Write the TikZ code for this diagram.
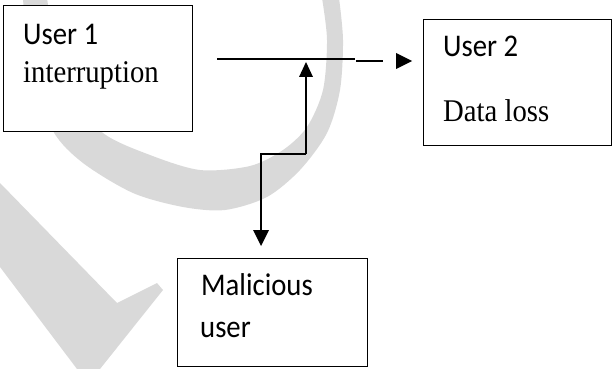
\documentclass[tikz,border=0pt]{standalone}
\usepackage{fontspec}
\usepackage{graphicx}
\setmainfont{Liberation Serif}
\setsansfont{Carlito}
\definecolor{wmark}{gray}{0.85}
% text in this drawing is set slightly taller than wide
\newcommand\tallt[1]{\scalebox{1}[1.1]{#1}}
\tikzset{
  box/.style={draw=black, fill=white, line width=1.4pt, inner sep=0pt, anchor=north west},
  wire/.style={draw=black, line width=1.4pt},
  tip/.style={fill=black},
  lbl/.style={anchor=base west, inner sep=0pt, font=\fontsize{28.7}{32}\selectfont},
  slbl/.style={lbl, font=\fontsize{28.7}{32}\selectfont\sffamily},
}
\begin{document}
\begin{tikzpicture}[x=1pt, y=-1pt]
\useasboundingbox (0,0) rectangle (613,369);

% faint background mark: a ring and a slanted bar
\begin{scope}
  \clip (0,0) rectangle (613,369);
  \fill[wmark]
    plot[smooth] coordinates {(23,-2) (30,70) (53,131) (83,163) (133,193)
                              (183,207) (225,210) (267,197) (300,170)
                              (327,133) (340,90) (343,40) (339,-2)}
    -- plot[smooth] coordinates {(322,-2) (327,40) (323,90) (307,127)
                                 (283,150) (250,166) (200,170) (150,155)
                                 (103,133) (65,90) (47,-2)}
    -- cycle;
  \fill[wmark] (0,183) -- (117,303) -- (157,283) -- (163,290)
               -- (100,369) -- (77,369) -- (0,267) -- cycle;
\end{scope}

% boxes
\node[box, minimum width=189pt, minimum height=126pt] (u1) at (3,5) {};
\node[box, minimum width=188pt, minimum height=126pt] (u2) at (423,19) {};
\node[box, minimum width=190pt, minimum height=108pt] (mal) at (177,258) {};

% labels
\node[slbl] (t1) at (23,45) {\tallt{User 1}};
\node[lbl]  (t2) at (23,82) {\tallt{interruption}};
\node[slbl] (t3) at (443,57) {\tallt{User 2}};
\node[lbl]  (t4) at (443,121) {\tallt{Data loss}};
\node[slbl] (t5) at (201,295) {\tallt{Malicious}};
\node[slbl] (t6) at (200,337) {\tallt{user}};

% link from user 1 to user 2
\coordinate (a1) at (217,59);
\coordinate (a2) at (355,59);
\coordinate (b1) at (356,61);
\coordinate (b2) at (383,61);
\draw[wire] (a1) -- (a2);
\draw[wire] (b1) -- (b2);
\fill[tip] (396,53) -- (412,61) -- (396,69) -- cycle;

% attacker path: up to the link, down to the malicious user
\coordinate (j) at (306,154);
\coordinate (k) at (261,154);
\coordinate (upbase) at (306,77);
\coordinate (dnbase) at (261,230);
\draw[wire] (j) -- (upbase);
\fill[tip] (299,77) -- (306,62) -- (313,77) -- cycle;
\draw[wire] (j) -- (k) -- (dnbase);
\fill[tip] (253,230) -- (261,246) -- (269,230) -- cycle;
\end{tikzpicture}
\end{document}
